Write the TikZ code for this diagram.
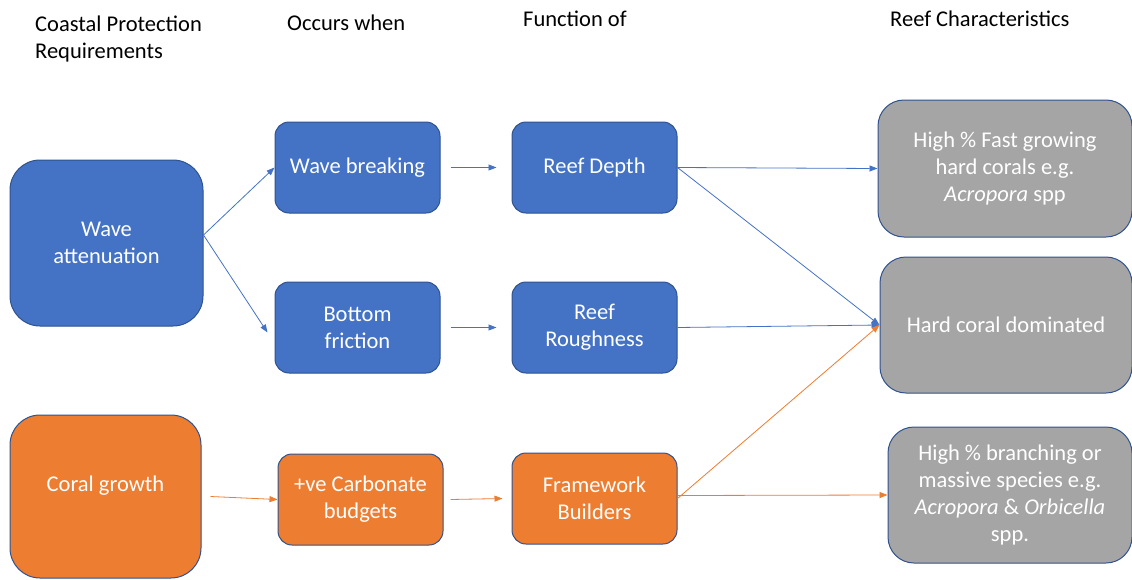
\documentclass[tikz,border=0pt]{standalone}
\usepackage{fontspec}
\setmainfont{Carlito}
\usetikzlibrary{arrows.meta}
\definecolor{cblue}{HTML}{4472C4}
\definecolor{corange}{HTML}{ED7D31}
\definecolor{cgray}{HTML}{A5A5A5}
\definecolor{cborder}{HTML}{2F528F}
\tikzset{
  box/.style={draw=cborder, line width=1pt, text=white, align=center,
    font=\fontsize{22.5}{27}\selectfont, inner sep=2pt},
  bluebox/.style={box, fill=cblue, rounded corners=14pt, minimum width=165pt, minimum height=91pt},
  orangebox/.style={box, fill=corange, rounded corners=14pt, minimum width=165pt, minimum height=91pt},
  graybox/.style={box, fill=cgray, rounded corners=26pt, minimum height=136pt},
  head/.style={font=\fontsize{22.5}{27}\selectfont, anchor=north west, align=left, inner sep=0pt},
  barrow/.style={draw=cblue, line width=0.8pt, -{Triangle[width=6pt,length=8pt]}},
  oarrow/.style={draw=corange, line width=0.8pt, -{Triangle[width=6pt,length=8pt]}},
}
\begin{document}
\begin{tikzpicture}[x=1pt,y=-1pt]
\useasboundingbox (0,0) rectangle (1132,579);
% headers
\node[head] (h1) at (35,16) {Coastal Protection\\Requirements};
\node[head] (h2) at (287,15) {Occurs when};
\node[head] (h3) at (523,11) {Function of};
\node[head] (h4) at (890,11) {Reef Characteristics};
% column 1
\node[bluebox, rounded corners=30pt, minimum width=193pt, minimum height=166pt] (wa) at (106.5,243) {Wave\\attenuation};
\node[orangebox, rounded corners=30pt, minimum width=191pt, minimum height=163pt] (cg) at (105.5,496.5) {};
\node[text=white, font=\fontsize{22.5}{27}\selectfont] (cgt) at (105.5,486) {Coral growth};
% column 2
\node[bluebox] (wb) at (357.5,167.5) {Wave breaking};
\node[bluebox] (bf) at (357.5,327.5) {Bottom\\friction};
\node[orangebox] (cb) at (360.5,499.5) {+ve Carbonate\\budgets};
% column 3
\node[bluebox] (rd) at (594.5,167.5) {Reef Depth};
\node[bluebox] (rr) at (594.5,327.5) {Reef\\Roughness};
\node[orangebox] (fb) at (594.5,498.5) {Framework\\Builders};
% column 4
\node[graybox, minimum width=254pt, minimum height=137pt] (fg) at (1005,168.5) {High \% Fast growing\\hard corals e.g.\\\textit{Acropora} spp};
\node[graybox, minimum width=252pt] (hc) at (1006,325) {Hard coral dominated};
\node[graybox, minimum width=244pt] (br) at (1010,495) {High \% branching or\\massive species e.g.\\\textit{Acropora} \& \textit{Orbicella}\\spp.};
% arrows
\draw[barrow] ([yshift=8pt]wa.east) -- (wb.west);
\draw[barrow] ([yshift=8pt]wa.east) -- ([xshift=-7pt,yshift=-5pt]bf.west);
\draw[barrow] ([xshift=10pt]wb.east) -- ([xshift=-15pt]rd.west);
\draw[barrow] ([xshift=10pt]bf.east) -- ([xshift=-15pt]rr.west);
\draw[barrow] (rd.east) -- (fg.west);
\draw[barrow] (rd.east) -- (hc.west);
\draw[barrow] (rr.east) -- (hc.west);
\draw[oarrow] (fb.east) -- (hc.west);
\draw[oarrow] ([yshift=3pt]fb.east) -- (br.west);
\draw[oarrow] ([xshift=9pt]cg.east) -- (cb.west);
\draw[oarrow] ([xshift=7pt]cb.east) -- ([xshift=-9pt]fb.west);
\end{tikzpicture}
\end{document}
